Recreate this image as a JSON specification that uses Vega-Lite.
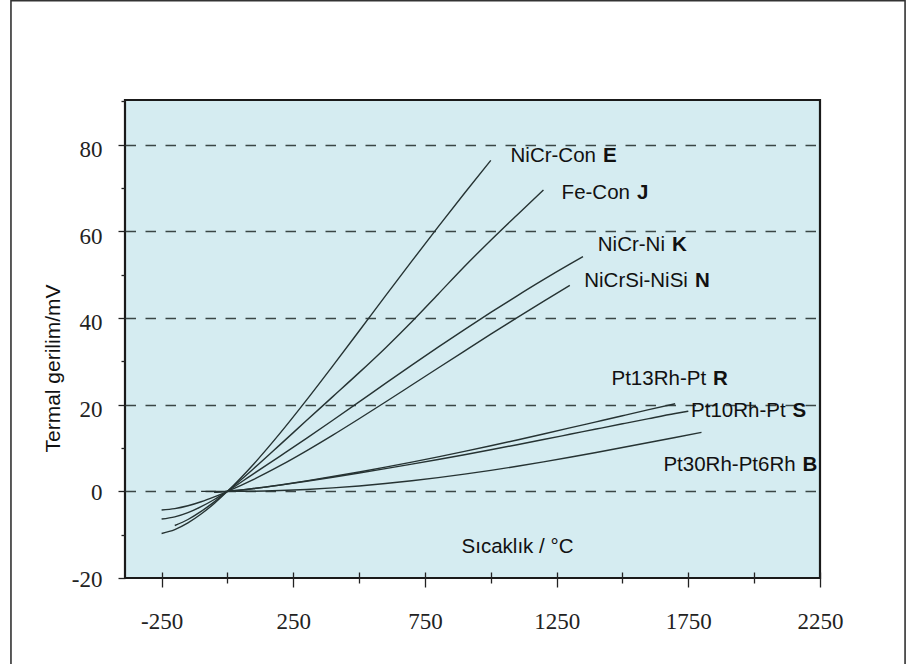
{
  "$schema": "https://vega.github.io/schema/vega-lite/v6.json",
  "width": 695,
  "height": 478,
  "autosize": {"type": "none"},
  "padding": {"left": 125, "top": 100, "right": 100, "bottom": 86},
  "background": "white",
  "config": {
    "view": {"fill": "#d5ecf1", "stroke": "#1a1a1a", "strokeWidth": 2.2}
  },
  "datasets": {
    "frame": [{"x1": -822, "x2": 2573, "y1": -41, "y2": 113.2}],
    "curves": [
      {"t": -250, "v": -9.72, "s": "E"}, {"t": -200, "v": -8.83, "s": "E"}, {"t": -150, "v": -7.28, "s": "E"}, {"t": -100, "v": -5.24, "s": "E"}, {"t": -50, "v": -2.79, "s": "E"}, {"t": 0, "v": 0, "s": "E"}, {"t": 100, "v": 6.32, "s": "E"}, {"t": 200, "v": 13.42, "s": "E"}, {"t": 300, "v": 21.04, "s": "E"}, {"t": 400, "v": 28.95, "s": "E"}, {"t": 500, "v": 37.0, "s": "E"}, {"t": 600, "v": 45.09, "s": "E"}, {"t": 700, "v": 53.11, "s": "E"}, {"t": 800, "v": 61.02, "s": "E"}, {"t": 900, "v": 68.79, "s": "E"}, {"t": 1000, "v": 76.37, "s": "E"},
      {"t": -200, "v": -7.89, "s": "J"}, {"t": -150, "v": -6.5, "s": "J"}, {"t": -100, "v": -4.63, "s": "J"}, {"t": -50, "v": -2.43, "s": "J"}, {"t": 0, "v": 0, "s": "J"}, {"t": 100, "v": 5.27, "s": "J"}, {"t": 200, "v": 10.78, "s": "J"}, {"t": 300, "v": 16.33, "s": "J"}, {"t": 400, "v": 21.85, "s": "J"}, {"t": 500, "v": 27.39, "s": "J"}, {"t": 600, "v": 33.1, "s": "J"}, {"t": 700, "v": 39.13, "s": "J"}, {"t": 800, "v": 45.49, "s": "J"}, {"t": 900, "v": 51.88, "s": "J"}, {"t": 1000, "v": 57.95, "s": "J"}, {"t": 1100, "v": 63.79, "s": "J"}, {"t": 1200, "v": 69.55, "s": "J"},
      {"t": -250, "v": -6.4, "s": "K"}, {"t": -200, "v": -5.89, "s": "K"}, {"t": -150, "v": -4.91, "s": "K"}, {"t": -100, "v": -3.55, "s": "K"}, {"t": -50, "v": -1.89, "s": "K"}, {"t": 0, "v": 0, "s": "K"}, {"t": 100, "v": 4.1, "s": "K"}, {"t": 200, "v": 8.14, "s": "K"}, {"t": 300, "v": 12.21, "s": "K"}, {"t": 400, "v": 16.4, "s": "K"}, {"t": 500, "v": 20.64, "s": "K"}, {"t": 600, "v": 24.91, "s": "K"}, {"t": 700, "v": 29.13, "s": "K"}, {"t": 800, "v": 33.28, "s": "K"}, {"t": 900, "v": 37.33, "s": "K"}, {"t": 1000, "v": 41.28, "s": "K"}, {"t": 1100, "v": 45.12, "s": "K"}, {"t": 1200, "v": 48.84, "s": "K"}, {"t": 1300, "v": 52.41, "s": "K"}, {"t": 1350, "v": 54.14, "s": "K"},
      {"t": -250, "v": -4.31, "s": "N"}, {"t": -200, "v": -3.99, "s": "N"}, {"t": -150, "v": -3.34, "s": "N"}, {"t": -100, "v": -2.41, "s": "N"}, {"t": -50, "v": -1.27, "s": "N"}, {"t": 0, "v": 0, "s": "N"}, {"t": 100, "v": 2.77, "s": "N"}, {"t": 200, "v": 5.91, "s": "N"}, {"t": 300, "v": 9.34, "s": "N"}, {"t": 400, "v": 12.97, "s": "N"}, {"t": 500, "v": 16.75, "s": "N"}, {"t": 600, "v": 20.61, "s": "N"}, {"t": 700, "v": 24.53, "s": "N"}, {"t": 800, "v": 28.46, "s": "N"}, {"t": 900, "v": 32.37, "s": "N"}, {"t": 1000, "v": 36.26, "s": "N"}, {"t": 1100, "v": 40.09, "s": "N"}, {"t": 1200, "v": 43.85, "s": "N"}, {"t": 1300, "v": 47.51, "s": "N"},
      {"t": -50, "v": -0.23, "s": "R"}, {"t": 0, "v": 0, "s": "R"}, {"t": 100, "v": 0.65, "s": "R"}, {"t": 200, "v": 1.47, "s": "R"}, {"t": 300, "v": 2.4, "s": "R"}, {"t": 400, "v": 3.41, "s": "R"}, {"t": 500, "v": 4.47, "s": "R"}, {"t": 600, "v": 5.58, "s": "R"}, {"t": 700, "v": 6.74, "s": "R"}, {"t": 800, "v": 7.95, "s": "R"}, {"t": 900, "v": 9.21, "s": "R"}, {"t": 1000, "v": 10.51, "s": "R"}, {"t": 1100, "v": 11.85, "s": "R"}, {"t": 1200, "v": 13.23, "s": "R"}, {"t": 1300, "v": 14.63, "s": "R"}, {"t": 1400, "v": 16.04, "s": "R"}, {"t": 1500, "v": 17.45, "s": "R"}, {"t": 1600, "v": 18.85, "s": "R"}, {"t": 1700, "v": 20.22, "s": "R"},
      {"t": -50, "v": -0.24, "s": "S"}, {"t": 0, "v": 0, "s": "S"}, {"t": 100, "v": 0.65, "s": "S"}, {"t": 200, "v": 1.44, "s": "S"}, {"t": 300, "v": 2.32, "s": "S"}, {"t": 400, "v": 3.26, "s": "S"}, {"t": 500, "v": 4.23, "s": "S"}, {"t": 600, "v": 5.24, "s": "S"}, {"t": 700, "v": 6.28, "s": "S"}, {"t": 800, "v": 7.35, "s": "S"}, {"t": 900, "v": 8.45, "s": "S"}, {"t": 1000, "v": 9.59, "s": "S"}, {"t": 1100, "v": 10.76, "s": "S"}, {"t": 1200, "v": 11.95, "s": "S"}, {"t": 1300, "v": 13.16, "s": "S"}, {"t": 1400, "v": 14.37, "s": "S"}, {"t": 1500, "v": 15.58, "s": "S"}, {"t": 1600, "v": 16.78, "s": "S"}, {"t": 1700, "v": 17.95, "s": "S"}, {"t": 1750, "v": 18.49, "s": "S"},
      {"t": -100, "v": 0.0, "s": "B"}, {"t": 0, "v": 0, "s": "B"}, {"t": 100, "v": 0.03, "s": "B"}, {"t": 200, "v": 0.18, "s": "B"}, {"t": 300, "v": 0.43, "s": "B"}, {"t": 400, "v": 0.79, "s": "B"}, {"t": 500, "v": 1.24, "s": "B"}, {"t": 600, "v": 1.79, "s": "B"}, {"t": 700, "v": 2.43, "s": "B"}, {"t": 800, "v": 3.15, "s": "B"}, {"t": 900, "v": 3.96, "s": "B"}, {"t": 1000, "v": 4.83, "s": "B"}, {"t": 1100, "v": 5.78, "s": "B"}, {"t": 1200, "v": 6.79, "s": "B"}, {"t": 1300, "v": 7.85, "s": "B"}, {"t": 1400, "v": 8.96, "s": "B"}, {"t": 1500, "v": 10.1, "s": "B"}, {"t": 1600, "v": 11.26, "s": "B"}, {"t": 1700, "v": 12.43, "s": "B"}, {"t": 1800, "v": 13.59, "s": "B"}
    ],
    "labels": [
      {"name": "NiCr-Con", "code": "E", "bx": 1426, "y": 76.1},
      {"name": "Fe-Con", "code": "J", "bx": 1555, "y": 67.5},
      {"name": "NiCr-Ni", "code": "K", "bx": 1688, "y": 55.4},
      {"name": "NiCrSi-NiSi", "code": "N", "bx": 1775, "y": 47.2},
      {"name": "Pt13Rh-Pt", "code": "R", "bx": 1844, "y": 24.6},
      {"name": "Pt10Rh-Pt", "code": "S", "bx": 2146, "y": 17.2},
      {"name": "Pt30Rh-Pt6Rh", "code": "B", "bx": 2184, "y": 4.6}
    ],
    "axisLabel": [{"name": "Sıcaklık / °C", "x": 889, "y": -14.2}]
  },
  "layer": [
    {
      "data": {"name": "frame"},
      "mark": {"type": "rect", "fill": null, "stroke": "#333333", "strokeWidth": 1.6, "clip": false},
      "encoding": {
        "x": {"field": "x1", "type": "quantitative", "scale": {"domain": [-389, 2250], "nice": false, "zero": false}},
        "x2": {"field": "x2"},
        "y": {"field": "y1", "type": "quantitative", "scale": {"domain": [-20, 90.3], "nice": false, "zero": false}},
        "y2": {"field": "y2"}
      }
    },
    {
      "data": {"name": "curves"},
      "mark": {"type": "line", "stroke": "#263333", "strokeWidth": 1.4, "interpolate": "monotone"},
      "encoding": {
        "x": {
          "field": "t", "type": "quantitative",
          "axis": {
            "title": null,
            "values": [-250, 0, 250, 500, 750, 1000, 1250, 1500, 1750, 2000, 2250],
            "domain": false,
            "grid": false,
            "offset": -6,
            "tickSize": {"condition": {"test": "(datum.value + 250) % 500 === 0", "value": 15}, "value": 11},
            "tickColor": "#222222",
            "tickWidth": 1.3,
            "labelExpr": "(datum.value + 250) % 500 === 0 ? '' + datum.value : ''",
            "labelFont": "Liberation Serif",
            "labelFontSize": 23,
            "labelColor": "#222222",
            "labelPadding": 23,
            "labelFlush": false,
            "labelOverlap": false
          }
        },
        "y": {
          "field": "v", "type": "quantitative",
          "axis": {
            "title": "Termal gerilim/mV",
            "titleFont": "Liberation Sans",
            "titleFontSize": 21,
            "titleFontWeight": "normal",
            "titleColor": "#111111",
            "titleAngle": -90,
            "titleX": -65.5,
            "titleY": 268,
            "titleAlign": "center",
            "titleBaseline": "alphabetic",
            "values": [-20, -10, 0, 10, 20, 30, 40, 50, 60, 70, 80, 90],
            "domain": false,
            "tickSize": {"condition": {"test": "datum.value % 20 === 0", "value": 7}, "value": 4},
            "tickColor": "#222222",
            "tickWidth": 1.3,
            "grid": true,
            "gridColor": "#3a4646",
            "gridWidth": 1.5,
            "gridDash": [10.5, 9.5],
            "gridOpacity": {"condition": {"test": "datum.value % 20 === 0 && datum.value >= 0 && datum.value <= 80", "value": 1}, "value": 0},
            "labelExpr": "datum.value % 20 === 0 && datum.value < 90 ? '' + datum.value : ''",
            "labelFont": "Liberation Serif",
            "labelFontSize": 23,
            "labelColor": "#222222",
            "labelPadding": 16,
            "labelOffset": {"condition": {"test": "datum.value > 0", "value": 5}, "value": 1},
            "labelFlush": false,
            "labelOverlap": false
          }
        },
        "detail": {"field": "s"}
      }
    },
    {
      "data": {"name": "labels"},
      "mark": {"type": "text", "align": "right", "baseline": "alphabetic", "dx": -7, "font": "Liberation Sans", "fontSize": 20.5, "color": "#111111"},
      "encoding": {
        "x": {"field": "bx", "type": "quantitative"},
        "y": {"field": "y", "type": "quantitative"},
        "text": {"field": "name"}
      }
    },
    {
      "data": {"name": "labels"},
      "mark": {"type": "text", "align": "left", "baseline": "alphabetic", "font": "Liberation Sans", "fontSize": 20.5, "fontWeight": "bold", "color": "#111111"},
      "encoding": {
        "x": {"field": "bx", "type": "quantitative"},
        "y": {"field": "y", "type": "quantitative"},
        "text": {"field": "code"}
      }
    },
    {
      "data": {"name": "axisLabel"},
      "mark": {"type": "text", "align": "left", "baseline": "alphabetic", "font": "Liberation Sans", "fontSize": 20.5, "color": "#111111"},
      "encoding": {
        "x": {"field": "x", "type": "quantitative"},
        "y": {"field": "y", "type": "quantitative"},
        "text": {"field": "name"}
      }
    }
  ]
}
